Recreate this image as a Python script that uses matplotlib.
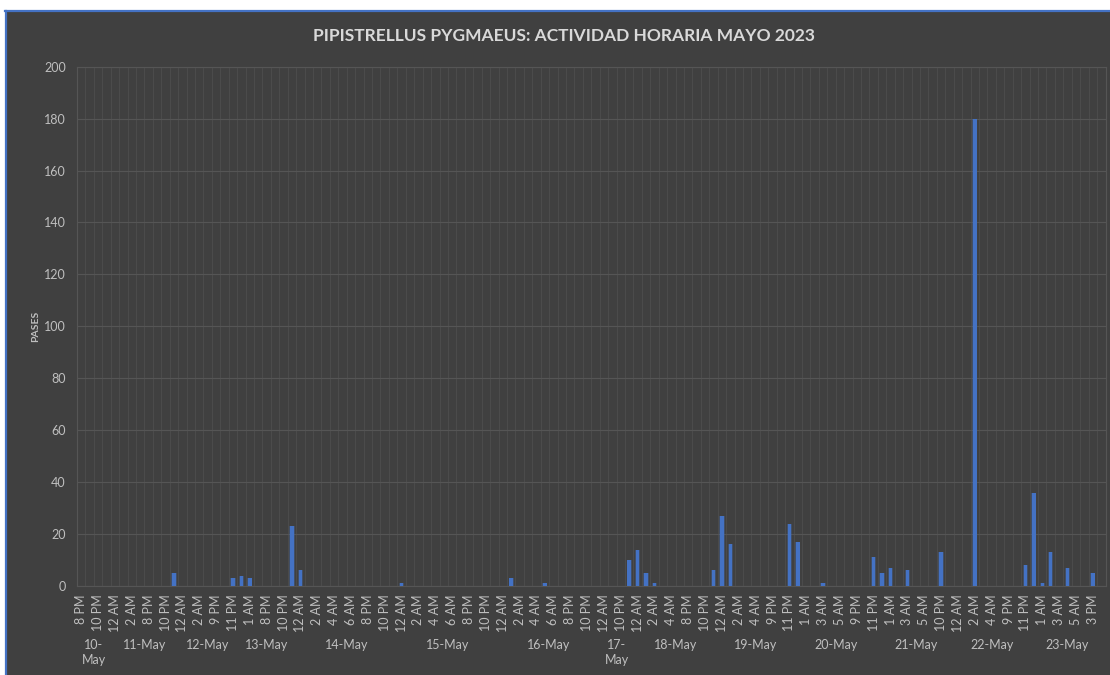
import numpy as np
import matplotlib
matplotlib.use("Agg")
import matplotlib.pyplot as plt
from matplotlib.patches import Rectangle
from matplotlib.lines import Line2D
import matplotlib.transforms as mtransforms

plt.rcParams['font.family'] = ['Lato', 'DejaVu Sans']

# one night per group, hours recorded and passes per hour
days = ['10-May', '11-May', '12-May', '13-May', '14-May', '15-May', '16-May',
        '17-May', '18-May', '19-May', '20-May', '21-May', '22-May', '23-May']

night_full = ['12 AM', '1 AM', '2 AM', '3 AM', '4 AM', '5 AM', '6 AM', '7 AM',
              '8 PM', '9 PM', '10 PM', '11 PM']

day_hours = [
    ['8 PM', '9 PM', '10 PM', '11 PM'],
    ['12 AM', '1 AM', '2 AM', '3 AM', '8 PM', '9 PM', '10 PM', '11 PM'],
    ['12 AM', '1 AM', '2 AM', '3 AM', '9 PM', '10 PM', '11 PM'],
    ['12 AM', '1 AM', '2 AM', '8 PM', '9 PM', '10 PM', '11 PM'],
    night_full,
    night_full,
    night_full,
    ['12 AM', '9 PM', '10 PM', '11 PM'],
    ['12 AM', '1 AM', '2 AM', '3 AM', '4 AM', '5 AM', '8 PM', '9 PM', '10 PM', '11 PM'],
    ['12 AM', '1 AM', '2 AM', '3 AM', '4 AM', '5 AM', '9 PM', '10 PM', '11 PM'],
    ['12 AM', '1 AM', '2 AM', '3 AM', '4 AM', '5 AM', '6 AM', '9 PM', '10 PM', '11 PM'],
    ['12 AM', '1 AM', '2 AM', '3 AM', '4 AM', '5 AM', '9 PM', '10 PM', '11 PM'],
    ['12 AM', '1 AM', '2 AM', '3 AM', '4 AM', '8 PM', '9 PM', '10 PM', '11 PM'],
    ['12 AM', '1 AM', '2 AM', '3 AM', '4 AM', '5 AM', '6 AM', '3 PM', '4 PM'],
]

day_pases = [
    [0, 0, 0, 0],
    [0, 0, 0, 0, 0, 0, 0, 5],
    [0, 0, 0, 0, 0, 0, 3],
    [4, 3, 0, 0, 0, 0, 23],
    [6, 0, 0, 0, 0, 0, 0, 0, 0, 0, 0, 0],
    [1, 0, 0, 0, 0, 0, 0, 0, 0, 0, 0, 0],
    [0, 3, 0, 0, 0, 1, 0, 0, 0, 0, 0, 0],
    [0, 0, 0, 10],
    [14, 5, 1, 0, 0, 0, 0, 0, 0, 6],
    [27, 16, 0, 0, 0, 0, 0, 0, 24],
    [17, 0, 0, 1, 0, 0, 0, 0, 0, 11],
    [5, 7, 0, 6, 0, 0, 0, 13, 0],
    [0, 0, 180, 0, 0, 0, 0, 0, 8],
    [36, 1, 13, 0, 7, 0, 0, 5, 0],
]

day_short = {'10-May': '10-\nMay', '17-May': '17-\nMay'}

bg = '#404040'
grid_col = '#555555'
text_col = '#bfbfbf'
blue = '#4472C4'

hours = [h for hs in day_hours for h in hs]
pases = [p for ps in day_pases for p in ps]
n = len(hours)
x = np.arange(n)

fig = plt.figure(figsize=(11.1, 6.75), dpi=100)
fig.patch.set_facecolor(bg)
ax = fig.add_axes([77 / 1110, 1 - 586 / 675, (1105.5 - 77) / 1110, (586 - 66.7) / 675])
ax.set_facecolor(bg)

# glow + bars
ax.bar(x, pases, width=0.62, color=blue, alpha=0.3, linewidth=0, zorder=2)
ax.bar(x, pases, width=0.42, color=blue, linewidth=0, zorder=3)

ax.set_xlim(-0.5, n - 0.5)
ax.set_ylim(0, 200)
ax.set_yticks(np.arange(0, 201, 20))
ax.set_xticks(x[::2])
ax.set_xticklabels(hours[::2], rotation=90, fontsize=9, color=text_col)
ax.set_xticks(np.arange(n + 1) - 0.5, minor=True)
ax.tick_params(axis='x', which='both', length=0, pad=6)
ax.tick_params(axis='y', length=0, pad=8, labelsize=9, labelcolor=text_col)
ax.grid(axis='y', which='major', color=grid_col, linewidth=0.8, zorder=0)
ax.grid(axis='x', which='minor', color='#4c4c4c', linewidth=0.7, zorder=0)
ax.grid(axis='x', which='major', visible=False)
for s in ax.spines.values():
    s.set_color(grid_col)
    s.set_linewidth(0.8)
ax.set_axisbelow(True)

# date group labels under the hour labels
trans = mtransforms.blended_transform_factory(ax.transData, ax.transAxes)
start = 0
for d, hs in zip(days, day_hours):
    mid = start + (len(hs) - 1) / 2
    ax.text(mid, -0.103, day_short.get(d, d), transform=trans, ha='center', va='top',
            fontsize=9, color=text_col, linespacing=1.25)
    start += len(hs)

ax.set_ylabel('PASES', fontsize=7.5, fontweight='bold', color=text_col, labelpad=3)

fig.text(0.508, 1 - 36 / 675, 'PIPISTRELLUS PYGMAEUS: ACTIVIDAD HORARIA MAYO 2023',
         ha='center', va='center', fontsize=12.5, fontweight='bold', color='#d9d9d9')

# white margin and blue chart border from the screenshot
fig.patches.append(Rectangle((0, 1 - 10 / 675), 1, 10 / 675, transform=fig.transFigure,
                             facecolor='white', edgecolor='none', zorder=5))
fig.patches.append(Rectangle((0, 0), 5 / 1110, 1, transform=fig.transFigure,
                             facecolor='white', edgecolor='none', zorder=5))
fig.lines.append(Line2D([5 / 1110, 1], [1 - 11 / 675, 1 - 11 / 675], transform=fig.transFigure,
                        color=blue, linewidth=1.6, zorder=6))
fig.lines.append(Line2D([6 / 1110, 6 / 1110], [0, 1 - 11 / 675], transform=fig.transFigure,
                        color=blue, linewidth=1.6, zorder=6))

fig.savefig('out.png', dpi=100, facecolor=fig.get_facecolor())
